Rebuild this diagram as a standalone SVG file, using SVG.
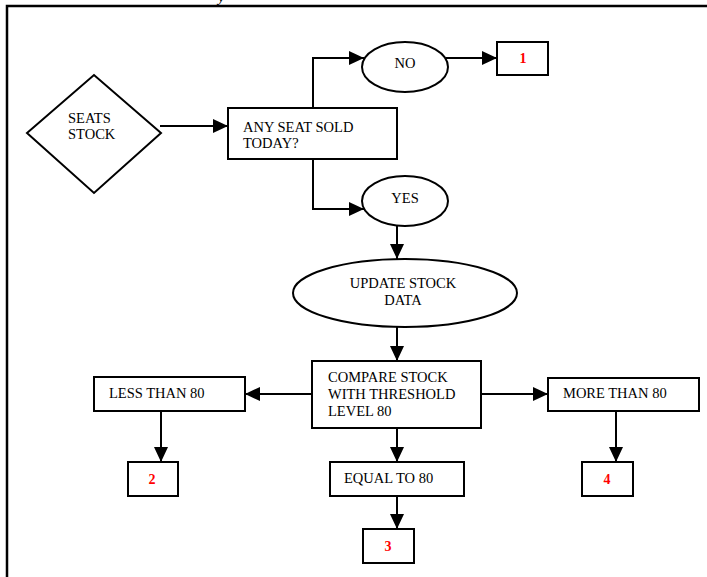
<svg xmlns="http://www.w3.org/2000/svg" width="707" height="577" viewBox="0 0 707 577">
<style>
.s{fill:#fff;stroke:#000;stroke-width:2}
.t{font-family:"Liberation Serif","Times New Roman",serif;font-size:14.5px;fill:#000}
.c{text-anchor:middle}
.n{font-family:"Liberation Serif","Times New Roman",serif;font-size:14px;font-weight:bold;fill:#ff0000;text-anchor:middle}
.e{fill:none;stroke:#000;stroke-width:2}
</style>
<defs>
<marker id="ah" markerUnits="userSpaceOnUse" markerWidth="16" markerHeight="14" refX="15" refY="7" orient="auto">
<path d="M0,0 L15,7 L0,14 z" fill="#000"/>
</marker>
</defs>
<rect width="707" height="577" fill="#fff"/>
<path d="M7,577 V6 H707" fill="none" stroke="#000" stroke-width="2.5"/>
<text x="218" y="2" class="t" font-style="italic">y</text>
<g id="connectors">
<path class="e" d="M160,126 H228" marker-end="url(#ah)"/>
<path class="e" d="M313,108 V58 H364" marker-end="url(#ah)"/>
<path class="e" d="M313,159 V209 H364" marker-end="url(#ah)"/>
<path class="e" d="M446,58 H497" marker-end="url(#ah)"/>
<path class="e" d="M397,226 V259" marker-end="url(#ah)"/>
<path class="e" d="M397,327 V361" marker-end="url(#ah)"/>
<path class="e" d="M312,394 H245" marker-end="url(#ah)"/>
<path class="e" d="M481,394 H548" marker-end="url(#ah)"/>
<path class="e" d="M397,428 V462" marker-end="url(#ah)"/>
<path class="e" d="M161,411 V462" marker-end="url(#ah)"/>
<path class="e" d="M616,411 V462" marker-end="url(#ah)"/>
<path class="e" d="M397,496 V529" marker-end="url(#ah)"/>
</g>
<g id="seats-stock">
<polygon class="s" points="27,133 94,75 161,133 94,193"/>
<text class="t" x="68" y="123">SEATS</text>
<text class="t" x="68" y="139">STOCK</text>
</g>
<g id="any-seat-sold">
<rect class="s" x="228" y="108" width="169" height="51"/>
<text class="t" x="243" y="132">ANY SEAT SOLD</text>
<text class="t" x="243" y="148">TODAY?</text>
</g>
<g id="no">
<ellipse class="s" cx="405" cy="67" rx="43" ry="25"/>
<text class="t c" x="405" y="68">NO</text>
</g>
<g id="box1">
<rect class="s" x="497" y="42" width="51" height="33"/>
<text class="n" x="523" y="63">1</text>
</g>
<g id="yes">
<ellipse class="s" cx="405" cy="201" rx="43" ry="25"/>
<text class="t c" x="405" y="203">YES</text>
</g>
<g id="update-stock">
<ellipse class="s" cx="405" cy="293" rx="112" ry="34"/>
<text class="t c" x="403" y="288">UPDATE STOCK</text>
<text class="t c" x="403" y="305">DATA</text>
</g>
<g id="compare">
<rect class="s" x="312" y="361" width="169" height="67"/>
<text class="t" x="328" y="382">COMPARE STOCK</text>
<text class="t" x="328" y="399">WITH THRESHOLD</text>
<text class="t" x="328" y="416">LEVEL 80</text>
</g>
<g id="less">
<rect class="s" x="94" y="377" width="151" height="34"/>
<text class="t" x="109" y="398">LESS THAN 80</text>
</g>
<g id="more">
<rect class="s" x="548" y="378" width="151" height="33"/>
<text class="t" x="563" y="398">MORE THAN 80</text>
</g>
<g id="equal">
<rect class="s" x="330" y="462" width="134" height="34"/>
<text class="t" x="344" y="483">EQUAL TO 80</text>
</g>
<g id="box2">
<rect class="s" x="128" y="462" width="50" height="34"/>
<text class="n" x="152" y="484">2</text>
</g>
<g id="box3">
<rect class="s" x="363" y="529" width="51" height="34"/>
<text class="n" x="388" y="551">3</text>
</g>
<g id="box4">
<rect class="s" x="582" y="462" width="51" height="34"/>
<text class="n" x="607" y="484">4</text>
</g>
</svg>
